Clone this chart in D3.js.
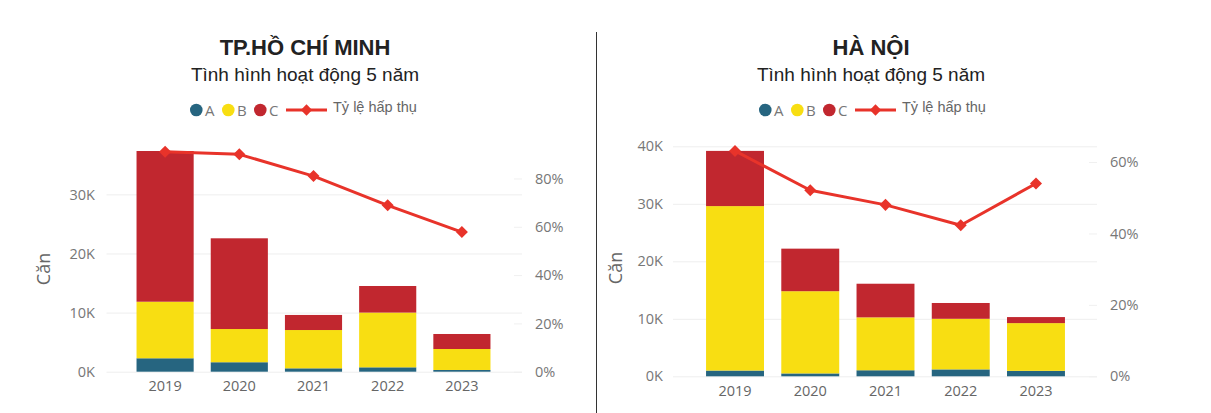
<!DOCTYPE html>
<html>
<head>
<meta charset="utf-8">
<script src="https://cdn.jsdelivr.net/npm/d3@7"></script>
<style>
  body { margin: 0; background: #fff; }
  svg { display: block; }
</style>
</head>
<body>
<div id="chart"></div>
<script>
// Data
var years = ["2019", "2020", "2021", "2022", "2023"];
var seriesKeys = ["A", "B", "C"];
var lineName = "Tỷ lệ hấp thụ";

var hcmA = [2270, 1600, 570, 740, 290];
var hcmB = [9570, 5620, 6480, 9260, 3550];
var hcmC = [25500, 15350, 2550, 4500, 2540];
var hcmRate = [0.911, 0.900, 0.810, 0.689, 0.578];

var hnA = [1000, 500, 1050, 1200, 950];
var hnB = [28600, 14300, 9200, 8800, 8300];
var hnC = [9600, 7400, 5850, 2750, 1050];
var hnRate = [0.631, 0.521, 0.480, 0.423, 0.540];

var hcmCountTicks = [0, 10000, 20000, 30000];
var hcmRateTicks = [0, 0.2, 0.4, 0.6, 0.8];
var hnCountTicks = [0, 10000, 20000, 30000, 40000];
var hnRateTicks = [0, 0.2, 0.4, 0.6];

var colors = { "A": "#266580", "B": "#f8de12", "C": "#c1272f" };
var lineColor = "#e8332a";

var W = 1211, H = 413;
var svg = d3.select("#chart").append("svg")
    .attr("width", W)
    .attr("height", H);

// divider between the two panels
svg.append("line")
    .attr("x1", 596.5).attr("x2", 596.5)
    .attr("y1", 32).attr("y2", H)
    .style("stroke", "#333")
    .style("stroke-width", 1);

// diamond marker = rotated square
function diamond(g, cx, cy, s)
{
  return g.append("rect")
      .attr("x", -s / 2).attr("y", -s / 2)
      .attr("width", s).attr("height", s)
      .attr("transform", "translate(" + cx + "," + cy + ") rotate(45)")
      .style("fill", lineColor);
}

function drawPanel(p)
{
  var g = svg.append("g");

  // Titles
  g.append("text")
      .attr("x", p.cx).attr("y", 55)
      .attr("text-anchor", "middle")
      .style("font-family", "'Liberation Sans', Arial, sans-serif")
      .style("font-weight", "bold")
      .style("font-size", "22px")
      .style("fill", "#222")
      .text(p.title);
  g.append("text")
      .attr("x", p.cx).attr("y", 81)
      .attr("text-anchor", "middle")
      .style("font-family", "'Liberation Sans', Arial, sans-serif")
      .style("font-size", "19px")
      .style("fill", "#222")
      .text("Tình hình hoạt động 5 năm");

  // Legend
  var lg = g.append("g").attr("transform", "translate(" + p.legendX + ",110)");
  var lx = 0;
  seriesKeys.forEach(function(k) {
    lg.append("circle").attr("cx", lx + 6.3).attr("cy", 0).attr("r", 6.3)
        .style("fill", colors[k]);
    lg.append("text").attr("x", lx + 15).attr("y", 5.5)
        .style("font-family", "'Open Sans', sans-serif")
        .style("font-size", "15px")
        .style("fill", "#777")
        .text(k);
    lx += 32;
  });
  lg.append("line").attr("x1", lx).attr("x2", lx + 41).attr("y1", 0).attr("y2", 0)
      .style("stroke", lineColor).style("stroke-width", 3);
  diamond(lg, lx + 20.5, 0, 8);
  lg.append("text").attr("x", lx + 47).attr("y", 2)
      .style("font-family", "'Liberation Sans', Arial, sans-serif")
      .style("font-size", "14.5px")
      .style("fill", "#666")
      .text(lineName);

  // Scales
  var x = d3.scaleBand()
      .domain(years)
      .range([p.bandLeft, p.bandRight])
      .paddingInner(0.23)
      .paddingOuter(0.115);
  var y = d3.scaleLinear()
      .domain([0, p.countMax])
      .range([p.y0, p.yTop]);
  var y2 = d3.scaleLinear()
      .domain([0, p.rateMax])
      .range([p.y0, p.yTop]);

  // Gridlines for the count axis
  g.append("g").selectAll("line")
      .data(p.countTicks)
      .enter().append("line")
      .attr("x1", p.gridLeft).attr("x2", p.gridRight)
      .attr("y1", function(d) { return y(d) + 0.5; })
      .attr("y2", function(d) { return y(d) + 0.5; })
      .style("stroke", "#eeeeee")
      .style("stroke-width", 1);

  // Left axis
  var yAxis = d3.axisLeft(y)
      .tickValues(p.countTicks)
      .tickSize(0)
      .tickPadding(0)
      .tickFormat(function(d) { return (d / 1000) + "K"; });
  var ya = g.append("g")
      .attr("transform", "translate(" + p.leftLabelX + ",0)")
      .call(yAxis);
  ya.select(".domain").remove();
  ya.selectAll("text")
      .style("font-family", "'Open Sans', sans-serif")
      .style("font-size", "14.5px")
      .style("fill", "#777");

  // Right axis
  var y2Axis = d3.axisRight(y2)
      .tickValues(p.rateTicks)
      .tickSize(0)
      .tickPadding(0)
      .tickFormat(d3.format(".0%"));
  var ya2 = g.append("g")
      .attr("transform", "translate(" + p.rightLabelX + ",0)")
      .call(y2Axis);
  ya2.select(".domain").remove();
  ya2.selectAll("text")
      .style("font-family", "'Open Sans', sans-serif")
      .style("font-size", "14.5px")
      .style("fill", "#777");
  // small faint dashes next to the percent labels
  g.append("g").selectAll("line")
      .data(p.rateTicks)
      .enter().append("line")
      .attr("x1", p.gridRight - 8).attr("x2", p.gridRight)
      .attr("y1", function(d) { return y2(d) + 0.5; })
      .attr("y2", function(d) { return y2(d) + 0.5; })
      .style("stroke", "#f0f0f0");

  // X axis labels
  var xAxis = d3.axisBottom(x).tickSize(0).tickPadding(0);
  var xa = g.append("g")
      .attr("transform", "translate(0," + p.xLabelY + ")")
      .call(xAxis);
  xa.select(".domain").remove();
  xa.selectAll("text")
      .style("font-family", "'Open Sans', sans-serif")
      .style("font-size", "14.5px")
      .style("fill", "#666");

  // Axis title
  g.append("text")
      .attr("transform", "translate(" + p.axisTitleX + "," + p.axisTitleY + ") rotate(-90)")
      .attr("text-anchor", "middle")
      .style("font-family", "'Open Sans', sans-serif")
      .style("font-size", "18px")
      .style("fill", "#666")
      .text("Căn");

  // Stacked bars
  var rows = years.map(function(yr, i) {
    return { year: yr, A: p.a[i], B: p.b[i], C: p.c[i] };
  });
  var stacked = d3.stack().keys(seriesKeys)(rows);
  g.append("g").selectAll("g")
      .data(stacked)
      .enter().append("g")
      .style("fill", function(d) { return colors[d.key]; })
      .selectAll("rect")
      .data(function(d) { return d; })
      .enter().append("rect")
      .attr("x", function(d) { return x(d.data.year); })
      .attr("width", x.bandwidth())
      .attr("y", function(d) { return y(d[1]); })
      .attr("height", function(d) { return y(d[0]) - y(d[1]); });

  // Rate line
  var line = d3.line()
      .x(function(d, i) { return x(years[i]) + x.bandwidth() / 2; })
      .y(function(d) { return y2(d); });
  g.append("path")
      .datum(p.rate)
      .attr("d", line)
      .style("fill", "none")
      .style("stroke", lineColor)
      .style("stroke-width", 3)
      .style("stroke-linejoin", "round");
  var mk = g.append("g");
  p.rate.forEach(function(d, i) {
    diamond(mk, x(years[i]) + x.bandwidth() / 2, y2(d), 8.5);
  });
}

drawPanel({
  title: "TP.HỒ CHÍ MINH", cx: 305, legendX: 190,
  a: hcmA, b: hcmB, c: hcmC, rate: hcmRate,
  countTicks: hcmCountTicks, rateTicks: hcmRateTicks,
  countMax: 38000, rateMax: 0.93,
  y0: 371.7, yTop: 147.1,
  bandLeft: 128, bandRight: 499,
  gridLeft: 106.5, gridRight: 522,
  leftLabelX: 95, rightLabelX: 535,
  xLabelY: 381, axisTitleX: 50, axisTitleY: 269
});

drawPanel({
  title: "HÀ NỘI", cx: 871, legendX: 759,
  a: hnA, b: hnB, c: hnC, rate: hnRate,
  countTicks: hnCountTicks, rateTicks: hnRateTicks,
  countMax: 40000, rateMax: 0.644,
  y0: 376.3, yTop: 146.3,
  bandLeft: 697.4, bandRight: 1073.6,
  gridLeft: 673, gridRight: 1097,
  leftLabelX: 663, rightLabelX: 1110,
  xLabelY: 386, axisTitleX: 622, axisTitleY: 268
});
</script>
</body>
</html>
